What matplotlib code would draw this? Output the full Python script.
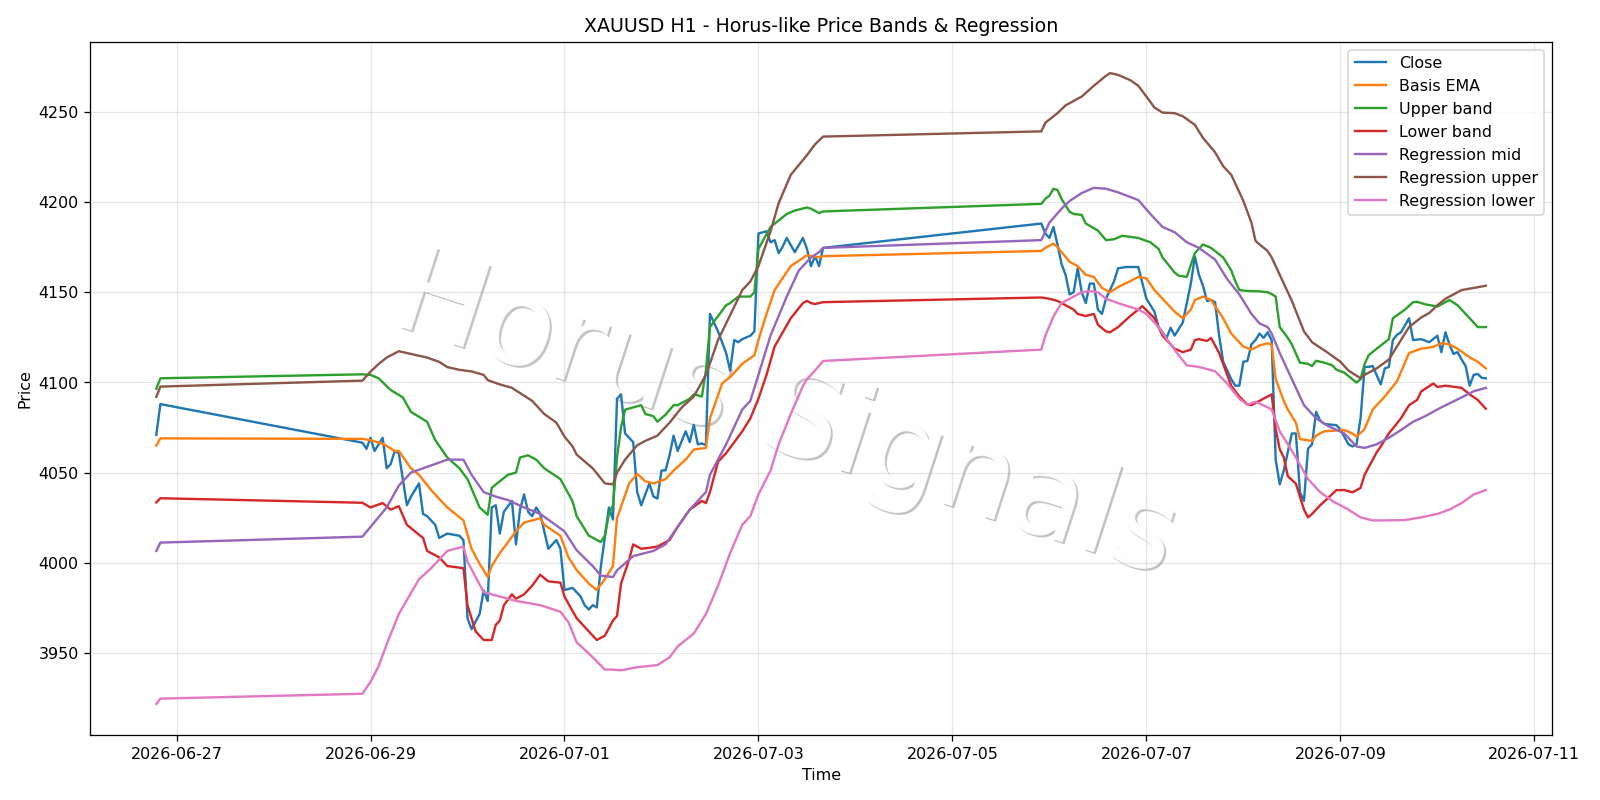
import pandas as pd
import matplotlib
matplotlib.use('Agg')
import matplotlib.pyplot as plt
from matplotlib.transforms import offset_copy

# time axis: hours after 2026-06-27 00:00 (weekend gaps show as straight lines)
T0 = pd.Timestamp('2026-06-27 00:00')

close_h = [-5, -4, 46, 47, 48, 49, 51, 52, 53, 54, 55, 57, 58, 60, 61, 62, 64, 65, 67, 70,
           71, 72, 73, 75, 76, 77, 78, 79, 80, 81, 83, 84, 85, 86, 87, 88, 89, 90, 92, 94,
           95, 96, 98, 100, 101, 102, 103, 104, 105, 107, 108, 109, 110, 111, 113, 114, 115, 117, 118, 119,
           120, 121, 122, 123, 124, 126, 127, 128, 129, 130, 131, 132, 134, 136, 137, 138, 139, 140, 142, 143,
           144, 146, 147, 148, 149, 150, 151, 153, 155, 156, 157, 158, 159, 160,
           214, 215, 216, 217, 218, 219, 220, 221, 222, 223, 224, 225, 226, 227, 228, 229, 230, 232, 233, 235,
           238, 240, 242, 243, 245, 246, 247, 249, 251, 252, 253, 254, 255, 256, 257, 258, 259, 261, 262, 263,
           264, 265, 266, 267, 268, 269, 270, 271, 272, 273, 274, 276, 277, 278, 279, 280, 281, 282, 283, 284,
           287, 288, 290, 291, 292, 293, 294, 295, 296, 298, 299, 300, 301, 302, 303, 305, 306, 308, 310, 312,
           313, 314, 315, 316, 317, 318, 319, 320, 321, 322, 323, 324]
close_v = [4071, 4088, 4066.6, 4063.2, 4069.3, 4062, 4069.3, 4052.4, 4054.8, 4062, 4060.8, 4031.9, 4036.7, 4044, 4027.1, 4025.9, 4021.1, 4013.8, 4016.2, 4015,
           4012.6, 3969.3, 3963.2, 3971.6, 3984.7, 3978.9, 4030.7, 4031.9, 4016.2, 4028.3, 4034.3, 4010.2, 4029.5, 4037.9, 4028.3, 4025.9, 4030.7, 4027.1, 4007.8, 4012.6,
           4007.8, 3984.9, 3986.1, 3981.3, 3976.5, 3974.1, 3976.5, 3975.3, 3998, 4030.7, 4024, 4090.9, 4093.4, 4071.7, 4066.9, 4039.2, 4031.9, 4044, 4036.8, 4035.6,
           4051.2, 4051.2, 4059.6, 4070.5, 4062, 4072.9, 4066.9, 4076.5, 4065.7, 4066.2, 4065.2, 4138, 4128.3, 4116.3, 4106.6, 4123.5, 4122.3, 4124, 4125.9, 4128.3,
           4182.6, 4183.8, 4177.7, 4178.9, 4171.7, 4175.3, 4180.1, 4172.2, 4180.1, 4174.1, 4164.5, 4170, 4164.5, 4174.6,
           4188.1, 4182.6, 4180.1, 4186.2, 4176.5, 4165.7, 4159.7, 4148.8, 4150, 4163.3, 4150, 4144, 4154.8, 4154.8, 4140.4, 4138, 4146.4, 4156.1, 4163.3, 4164,
           4164, 4146.4, 4139.2, 4130.7, 4124.7, 4130.3, 4126, 4133.2, 4154.8, 4169.8, 4159.7, 4153.6, 4145.2, 4145.7, 4144.5, 4125.9, 4111.5, 4101.8, 4098.2, 4098.2,
           4111.5, 4111.9, 4121.1, 4123.5, 4127.1, 4124.7, 4127.8, 4123.5, 4057.2, 4043.5, 4051.2, 4071.7, 4071.7, 4039.1, 4034.3, 4063.3, 4065.7, 4083.7, 4078.9, 4077,
           4076.3, 4074, 4065.7, 4064.5, 4065.7, 4080.1, 4108.6, 4108.6, 4109.1, 4098.9, 4107.8, 4108.6, 4123.5, 4126.4, 4127.8, 4135.6, 4123.5, 4124, 4122.3, 4125.9,
           4116.8, 4127.8, 4121.1, 4115.8, 4116.8, 4112.7, 4109.1, 4098.2, 4104.2, 4104.7, 4102.5, 4102.3]

ema_h = [-5, -4, 46, 48, 51, 54, 55, 58, 60, 63, 67, 71, 73, 75, 77, 78, 80, 82, 84, 86,
         90, 91, 95, 97, 99, 102, 104, 106, 108, 109, 112, 114, 116, 118, 121, 123, 126, 128, 131, 132,
         135, 137, 140, 143, 144, 146, 148, 152, 156, 159, 160,
         214, 215, 217, 218, 221, 223, 225, 227, 229, 231, 233, 236, 238, 240, 242, 245, 247, 249, 251,
         252, 254, 256, 259, 261, 264, 266, 268, 270, 271, 272, 274, 275, 277, 278, 281, 282, 284, 289, 291,
         292, 294, 296, 299, 302, 305, 308, 311, 313, 315, 317, 320, 322, 324]
ema_v = [4065, 4069, 4068.7, 4068, 4066.1, 4062, 4062, 4052.4, 4048.8, 4040.3, 4030.7, 4023.5, 4007.8, 3999.4, 3992.2, 3998.2, 4005.4, 4011.4, 4017.5, 4022.3,
         4024.7, 4021.1, 4015, 4003, 3996, 3988.5, 3984.9, 3991, 3998.2, 4024.7, 4044, 4049.3, 4045.2, 4044, 4046.4, 4051.2, 4057.2, 4062.8, 4063.7, 4080.1,
         4099.4, 4103, 4110.3, 4115.1, 4123.5, 4138, 4151.2, 4164.5, 4170.5, 4169.3, 4170,
         4172.9, 4174.6, 4177, 4175, 4166.9, 4164.5, 4159.7, 4158.5, 4152.4, 4150, 4152.9, 4156.1, 4158.5, 4157.7, 4151.2, 4144, 4139.2, 4135.6, 4140.4,
         4145.7, 4147.6, 4145.7, 4135.6, 4127.1, 4119.9, 4118.2, 4120.5, 4121.7, 4121, 4101.8, 4089.8, 4084.9, 4077.7, 4068.6, 4067.6, 4070.5, 4072.9, 4073.6, 4071.7,
         4070, 4074.1, 4084.9, 4092.2, 4100.6, 4116.3, 4118.7, 4119.7, 4121.8, 4121.1, 4118.7, 4113.9, 4111.5, 4107.8]

upper_h = [-5, -4, 46, 48, 50, 53, 56, 58, 62, 64, 67, 70, 72, 75, 77, 78, 80, 82, 84, 85,
           87, 89, 91, 95, 98, 99, 102, 105, 106, 107, 108, 109, 110, 111, 115, 116, 118, 119, 121, 123,
           124, 127, 128, 130, 131, 132, 136, 137, 139, 142, 143, 144, 147, 151, 153, 156, 157, 159, 160,
           214, 215, 216, 217, 218, 219, 221, 222, 224, 225, 228, 230, 232, 234, 238, 241, 243, 244, 247, 248,
           250, 252, 254, 256, 259, 261, 262, 263, 265, 268, 270, 271, 272, 273, 275, 276, 277, 278, 280, 281,
           282, 284, 286, 287, 289, 292, 293, 294, 295, 297, 300, 301, 304, 306, 307, 309, 312, 315, 317, 319,
           322, 324]
upper_v = [4096.5, 4102.3, 4104.5, 4104.2, 4102.3, 4095.8, 4091.7, 4083.7, 4078.2, 4068.1, 4058.4, 4052.4, 4046.4, 4030.7, 4026.6, 4041.6, 4045.2, 4048.8, 4050, 4058.4,
           4059.6, 4057.2, 4052.4, 4046.4, 4034.1, 4025.9, 4015.1, 4011.5, 4015.1, 4027.1, 4031.9, 4058.4, 4075.3, 4084.9, 4087.4, 4082.5, 4081.3, 4078.2, 4082.1, 4087.4,
           4087.4, 4091, 4093.4, 4092.2, 4106.6, 4130.7, 4142.8, 4144, 4147.6, 4147.6, 4150, 4174.1, 4186.2, 4193.4, 4195.3, 4197, 4196.3, 4193.9, 4194.8,
           4199, 4201.8, 4203.5, 4207.4, 4206.7, 4201.8, 4194.6, 4193.4, 4192.9, 4188.1, 4184.2, 4178.9, 4179.4, 4181.3, 4180.1, 4177.7, 4174.1, 4169.3, 4160.9, 4159.2,
           4158.5, 4171.7, 4176.5, 4174.6, 4169.3, 4162.1, 4156.1, 4151.2, 4150.7, 4150.5, 4150, 4149, 4147.6, 4130.7, 4124.7, 4121.1, 4116, 4111, 4110.3, 4109.1,
           4112, 4111, 4109.5, 4107.1, 4105.4, 4099.9, 4101.8, 4110.3, 4115.1, 4118.7, 4124, 4135.6, 4140.4, 4144.5, 4144.7, 4143.3, 4142.1, 4145.7, 4142.8, 4138,
           4130.7, 4130.7]

lower_h = [-5, -4, 46, 48, 51, 53, 55, 57, 59, 61, 62, 65, 67, 71, 72, 74, 76, 78, 79, 80,
           81, 83, 84, 86, 88, 90, 92, 95, 96, 99, 102, 104, 106, 108, 109, 110, 112, 113, 115, 117,
           119, 122, 124, 127, 130, 131, 132, 134, 136, 140, 142, 144, 146, 148, 152, 155, 156, 157, 158, 160,
           214, 216, 218, 220, 222, 223, 225, 227, 228, 230, 231, 233, 236, 238, 239, 242, 244, 246, 247, 249,
           251, 252, 253, 255, 256, 258, 260, 261, 263, 265, 266, 268, 270, 271, 272, 273, 274, 275, 277, 278,
           279, 280, 281, 283, 285, 287, 289, 291, 293, 294, 297, 298, 300, 303, 305, 307, 308, 311, 312, 314,
           318, 320, 322, 324]
lower_v = [4033.5, 4035.8, 4033.3, 4030.7, 4033.1, 4029.5, 4031.4, 4021.1, 4017.4, 4013.8, 4006.6, 4003, 3998.2, 3997, 3976.5, 3962, 3957.2, 3957.2, 3965.6, 3968,
           3976.5, 3982.5, 3980.1, 3982.5, 3987.3, 3993.4, 3989.7, 3989, 3981.3, 3969.3, 3962, 3957.2, 3959.6, 3968, 3970.5, 3988.5, 4001.8, 4010.2, 4007.8, 4008.3,
           4009, 4012.6, 4019.9, 4029.5, 4034.3, 4033.1, 4039.2, 4056, 4060.8, 4072.9, 4080.1, 4091, 4104.2, 4119.9, 4135.6, 4144, 4145.2, 4144, 4143.5, 4144.5,
           4147.1, 4146.4, 4145.2, 4142.8, 4140.4, 4138, 4136.8, 4138, 4132, 4128.3, 4127.8, 4130.7, 4136.8, 4140.4, 4142.3, 4135.6, 4125.9, 4121.1, 4118.7, 4116.8,
           4118.2, 4123.5, 4124, 4123, 4124.7, 4116.3, 4104.2, 4098.2, 4092.2, 4087.8, 4087.4, 4089.8, 4092.2, 4093.4, 4074, 4063, 4058.4, 4048, 4043.9, 4036.7,
           4029.5, 4025.2, 4027.1, 4031.9, 4036, 4040.3, 4040.3, 4039.1, 4041.5, 4048.8, 4061.3, 4064.5, 4071.7, 4080.1, 4087.4, 4090.3, 4095, 4099.4, 4097.5, 4098.2,
           4097, 4093.4, 4090.3, 4085.4]

rmid_h = [-5, -4, 46, 48, 52, 55, 58, 61, 64, 67, 71, 73, 76, 79, 82, 86, 90, 93, 96, 99,
          103, 105, 108, 109, 113, 118, 121, 124, 127, 131, 132, 136, 140, 142, 144, 147, 151, 154, 157, 159,
          160,
          214, 216, 219, 221, 224, 227, 230, 233, 238, 241, 244, 247, 250, 253, 257, 260, 263, 266, 268,
          270, 271, 273, 276, 279, 282, 285, 289, 292, 294, 297, 300, 303, 306, 309, 313, 318, 321, 324]
rmid_v = [4006.6, 4011.2, 4014.5, 4019.9, 4030.7, 4042.8, 4050, 4052.4, 4054.8, 4057.2, 4057.2, 4048.8, 4039.2, 4036.7, 4034.8, 4030.7, 4027.1, 4022.3, 4017.4, 4007,
          3998.2, 3992.9, 3992.1, 3995.8, 4003.7, 4006.6, 4010.2, 4019.9, 4029.5, 4039.2, 4048.8, 4065.7, 4085, 4089.8, 4104.2, 4126.1, 4147.6, 4162.1, 4169.3, 4172.2,
          4174.6,
          4178.9, 4188.6, 4196.3, 4200.6, 4205, 4207.9, 4207.4, 4205.4, 4201.1, 4193.4, 4186.2, 4183.3, 4177.7, 4174.6, 4168.1, 4157.3, 4148.8, 4138, 4132.7,
          4130.7, 4127.1, 4116.3, 4101.8, 4087.4, 4080.1, 4075.8, 4071.7, 4064.5, 4063.7, 4065.7, 4069.3, 4073.6, 4078.2, 4081.3, 4086.2, 4091.7, 4095.1, 4097]

rup_h = [-5, -4, 46, 48, 50, 52, 55, 58, 60, 62, 65, 67, 70, 73, 76, 77, 80, 83, 85, 88,
         91, 94, 96, 98, 99, 103, 106, 108, 109, 111, 114, 116, 119, 122, 125, 128, 131, 134, 140, 142,
         144, 147, 149, 152, 156, 158, 160,
         214, 215, 218, 220, 224, 227, 230, 231, 233, 236, 238, 240, 242, 244, 247, 249, 252, 254, 257,
         259, 261, 262, 264, 266, 267, 268, 270, 271, 273, 276, 279, 281, 285, 288, 290, 293, 294, 297, 300,
         303, 305, 308, 310, 312, 314, 318, 321, 324]
rup_v = [4092, 4097.7, 4101, 4106, 4110.2, 4113.8, 4117.3, 4115.8, 4114.8, 4113.8, 4111.4, 4108.5, 4107, 4106.1, 4104.2, 4101.3, 4098.9, 4097, 4094.1, 4089.8,
         4082.5, 4077.7, 4070, 4064.5, 4060, 4052.4, 4044, 4043.5, 4050, 4057.2, 4065.2, 4067.6, 4070.5, 4077.7, 4086.1, 4092.2, 4104.2, 4123.5, 4151.2, 4156,
         4164.5, 4183.8, 4199.4, 4215.1, 4226, 4232, 4236.3,
         4239.2, 4244, 4249.3, 4253.6, 4258.5, 4264.5, 4270, 4271.5, 4270.5, 4267.6, 4264.5, 4258.5, 4252.4, 4249.6, 4249.3, 4247.6, 4242.8, 4235.6, 4227.6,
         4219.9, 4215.1, 4210.3, 4200.6, 4188.6, 4178.5, 4176.5, 4172.9, 4169.3, 4159.7, 4145.2, 4128.3, 4122.3, 4116.3, 4111.5, 4106.6, 4102.3, 4104.2, 4107.8, 4112.7,
         4123.5, 4130.7, 4136, 4138.5, 4142.8, 4146.4, 4151.2, 4152.4, 4153.6]

rlow_h = [-5, -4, 46, 48, 50, 52, 55, 60, 63, 67, 71, 72, 74, 76, 80, 84, 90, 95, 97, 99,
          103, 106, 108, 110, 114, 119, 122, 124, 128, 131, 134, 137, 140, 142, 144, 147, 149, 152, 155, 156,
          158, 160,
          214, 215, 217, 219, 222, 224, 226, 228, 230, 233, 238, 240, 243, 246, 248, 250, 253, 257, 260,
          263, 265, 267, 270, 271, 273, 275, 277, 280, 283, 286, 290, 293, 296, 299, 304, 308, 312, 315, 318,
          321, 324]
rlow_v = [3921.8, 3924.7, 3927.4, 3934, 3942.7, 3954.8, 3971.6, 3990.9, 3997, 4006.6, 4009, 4000.6, 3992.2, 3983.7, 3981.3, 3978.9, 3976.5, 3972.9, 3967, 3956,
          3947.6, 3940.8, 3940.8, 3940.4, 3942.1, 3943.3, 3947.6, 3953.6, 3960.8, 3971.6, 3987.3, 4005.4, 4021.1, 4025.9, 4037.9, 4051.2, 4065.7, 4082.5, 4098, 4101.8,
          4106.6, 4111.9,
          4118.2, 4125.9, 4136.5, 4144, 4147.6, 4150, 4150.7, 4150, 4146.4, 4144, 4140.4, 4138, 4130.7, 4121.1, 4115.1, 4109.5, 4108.6, 4106.2, 4099.4,
          4091, 4087.6, 4089.3, 4086.2, 4085, 4072.9, 4065.7, 4058.4, 4046.4, 4039.2, 4034.3, 4029.5, 4025.2, 4023.5, 4023.5, 4023.7, 4025.2, 4027.1, 4029.5, 4033.1,
          4037.9, 4040.3]

series = [
    ("Close", close_h, close_v),
    ("Basis EMA", ema_h, ema_v),
    ("Upper band", upper_h, upper_v),
    ("Lower band", lower_h, lower_v),
    ("Regression mid", rmid_h, rmid_v),
    ("Regression upper", rup_h, rup_v),
    ("Regression lower", rlow_h, rlow_v),
]


def to_time(hours):
    return T0 + pd.to_timedelta(hours, unit='h')


# 14x7 in at ~114 dpi -> 1600x800 px
fig, ax = plt.subplots(figsize=(14, 7), dpi=114.3)

for label, hrs, vals in series:
    ax.plot(to_time(hrs), vals, label=label, linewidth=1.5)

# watermark: grey copy shifted down-right, white copy on top -> thin shadow edges only
wm = dict(fontsize=75, rotation=-18, ha="center", va="center")
shadow_tf = offset_copy(fig.transFigure, fig=fig, x=1.2, y=-1.2, units="points")
ax.text(0.491, 0.478, "Horus Signals", transform=shadow_tf, color="0.76", zorder=1, **wm)
ax.text(0.491, 0.478, "Horus Signals", transform=fig.transFigure, color="white", zorder=1.1, **wm)

ax.set_title("XAUUSD H1 - Horus-like Price Bands & Regression")
ax.set_xlabel("Time")
ax.set_ylabel("Price")
ax.grid(True, alpha=0.3)
ax.legend(loc="upper right")

plt.tight_layout()
plt.savefig("out.png", dpi=114.3)
